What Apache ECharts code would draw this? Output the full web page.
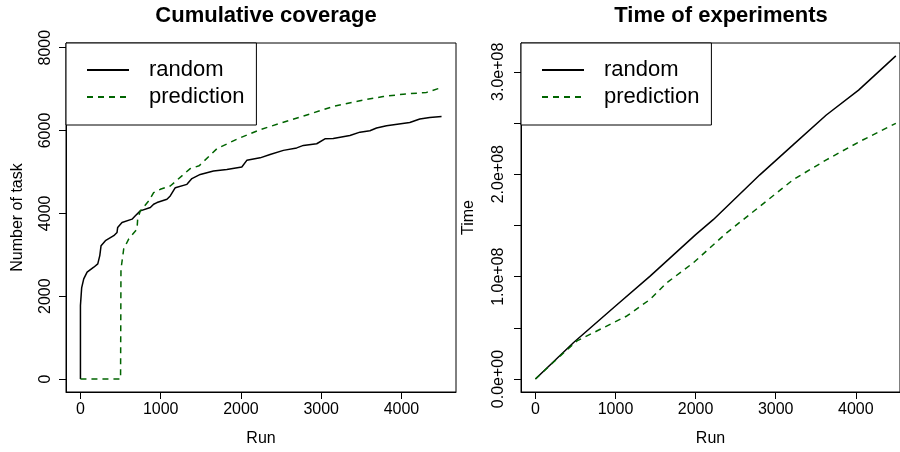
<!DOCTYPE html>
<html>
<head>
<meta charset="utf-8">
<script src="https://cdn.jsdelivr.net/npm/echarts@6/dist/echarts.min.js"></script>
<style>
  html, body { margin: 0; padding: 0; background: #fff; }
  #main { width: 900px; height: 452px; }
</style>
</head>
<body>
<div id="main"></div>
<script>
// cumulative coverage, [run, number of tasks]
var covRandom = [
  [0, 0], [0, 1780], [15, 2200], [41, 2420], [83, 2580], [166, 2700], [216, 2780],
  [235, 2800], [241, 2980], [257, 3220], [311, 3340], [415, 3460], [456, 3540],
  [464, 3660], [518, 3780], [643, 3860], [684, 3940], [746, 4060], [871, 4140],
  [912, 4220], [954, 4260], [1078, 4340], [1119, 4420], [1141, 4460], [1182, 4620],
  [1203, 4660], [1327, 4700], [1389, 4840], [1493, 4940], [1658, 5020], [1824, 5060],
  [2011, 5120], [2073, 5280], [2239, 5340], [2363, 5420], [2529, 5520], [2695, 5580],
  [2778, 5640], [2944, 5680], [3047, 5800], [3150, 5805], [3358, 5880], [3483, 5960],
  [3607, 5995], [3690, 6060], [3814, 6115], [4104, 6195], [4229, 6276], [4353, 6315],
  [4500, 6338]
];
var covPrediction = [
  [0, 0], [500, 0], [505, 2650], [539, 3140], [601, 3380], [705, 3620], [713, 3860],
  [746, 4060], [851, 4300], [912, 4500], [995, 4580], [1119, 4660], [1368, 5080],
  [1480, 5150], [1700, 5560], [1949, 5790], [2239, 6020], [2529, 6200], [2861, 6400],
  [3150, 6580], [3483, 6720], [3773, 6820], [4021, 6876], [4312, 6920], [4457, 7010],
  [4500, 7035]
];
// time of experiments, [run, time]
var timeRandom = [
  [0, 0], [477, 0.357e8], [1000, 0.713e8], [1432, 1.005e8], [2001, 1.41e8],
  [2220, 1.556e8], [2802, 1.994e8], [3217, 2.286e8], [3632, 2.578e8],
  [4035, 2.821e8], [4500, 3.155e8]
];
var timePrediction = [
  [0, 0], [311, 0.227e8], [519, 0.373e8], [809, 0.486e8], [1142, 0.616e8],
  [1432, 0.778e8], [1640, 0.94e8], [1971, 1.135e8], [2387, 1.427e8], [2802, 1.686e8],
  [3217, 1.946e8], [3632, 2.14e8], [4047, 2.318e8], [4500, 2.497e8]
];

var runTicks = [0, 1000, 2000, 3000, 4000];
var taskTicks = [0, 2000, 4000, 6000, 8000];
var timeTicks = [0, 0.5e8, 1e8, 1.5e8, 2e8, 2.5e8, 3e8];
var timeLabels = [0, 1e8, 2e8, 3e8];

var font = 'Liberation Sans, Arial, Helvetica, sans-serif';
var green = '#006400';

function xAxisFor(gi, max) {
  return {
    type: 'value', gridIndex: gi, min: -180, max: max,
    name: 'Run', nameLocation: 'middle', nameGap: 39,
    nameTextStyle: { fontSize: 16, color: '#000', fontFamily: font },
    axisLine: { show: true, onZero: false, lineStyle: { color: '#000', width: 1 } },
    axisTick: { show: true, length: 7, customValues: runTicks, lineStyle: { color: '#000' } },
    axisLabel: {
      customValues: runTicks, fontSize: 16, color: '#000', fontFamily: font, margin: 10,
      formatter: function (v) { return String(v); }
    },
    splitLine: { show: false }
  };
}

function legendFor(left) {
  return {
    left: left, top: 43, orient: 'vertical',
    backgroundColor: '#fff', borderColor: '#000', borderWidth: 1, borderRadius: 0,
    padding: [16, 12, 17, 20], itemGap: 5, itemWidth: 42, itemHeight: 14,
    selectedMode: false,
    itemStyle: { opacity: 0 },
    textStyle: { fontSize: 22, color: '#000', fontFamily: font, lineHeight: 22, padding: [0, 0, 0, 15] },
    data: ['random', 'prediction']
  };
}

function lineSeries(name, data, gi, color, dash) {
  return {
    name: name, type: 'line', xAxisIndex: gi, yAxisIndex: gi,
    data: data, symbol: 'none', showSymbol: false,
    lineStyle: { color: color, width: 1.5, type: dash },
    itemStyle: { color: color }
  };
}

var myChart = echarts.init(document.getElementById('main'));
myChart.setOption({
  animation: false,
  title: [
    { text: 'Cumulative coverage', left: 261, top: 0, textAlign: 'center',
      textStyle: { fontSize: 22, fontWeight: 'bold', color: '#000', fontFamily: font } },
    { text: 'Time of experiments', left: 716, top: 0, textAlign: 'center',
      textStyle: { fontSize: 22, fontWeight: 'bold', color: '#000', fontFamily: font } }
  ],
  legend: [legendFor(66), legendFor(521)],
  grid: [
    { left: 66, top: 43, width: 390, height: 350, show: true, borderColor: '#000', borderWidth: 1 },
    { left: 521, top: 43, width: 380, height: 350, show: true, borderColor: '#000', borderWidth: 1 }
  ],
  xAxis: [xAxisFor(0, 4680), xAxisFor(1, 4552)],
  yAxis: [
    {
      type: 'value', gridIndex: 0, min: -312, max: 8112,
      name: 'Number of task', nameLocation: 'middle', nameGap: 40,
      nameTextStyle: { fontSize: 16, color: '#000', fontFamily: font },
      axisLine: { show: true, onZero: false, lineStyle: { color: '#000', width: 1 } },
      axisTick: { show: true, length: 7, customValues: taskTicks, lineStyle: { color: '#000' } },
      axisLabel: {
        customValues: taskTicks, rotate: 90, fontSize: 16, color: '#000', fontFamily: font, margin: 12,
        formatter: function (v) { return String(v); }
      },
      splitLine: { show: false }
    },
    {
      type: 'value', gridIndex: 1, min: -0.1262e8, max: 3.281e8,
      name: 'Time', nameLocation: 'middle', nameGap: 44,
      nameTextStyle: { fontSize: 16, color: '#000', fontFamily: font },
      axisLine: { show: true, onZero: false, lineStyle: { color: '#000', width: 1 } },
      axisTick: { show: true, length: 7, customValues: timeTicks, lineStyle: { color: '#000' } },
      axisLabel: {
        customValues: timeLabels, rotate: 90, fontSize: 16, color: '#000', fontFamily: font, margin: 14,
        formatter: function (v) {
          return v === 0 ? '0.0e+00' : (v / 1e8).toFixed(1) + 'e+08';
        }
      },
      splitLine: { show: false }
    }
  ],
  series: [
    lineSeries('random', covRandom, 0, '#000', 'solid'),
    lineSeries('prediction', covPrediction, 0, green, [6, 5]),
    lineSeries('random', timeRandom, 1, '#000', 'solid'),
    lineSeries('prediction', timePrediction, 1, green, [6, 5])
  ]
});
</script>
</body>
</html>
